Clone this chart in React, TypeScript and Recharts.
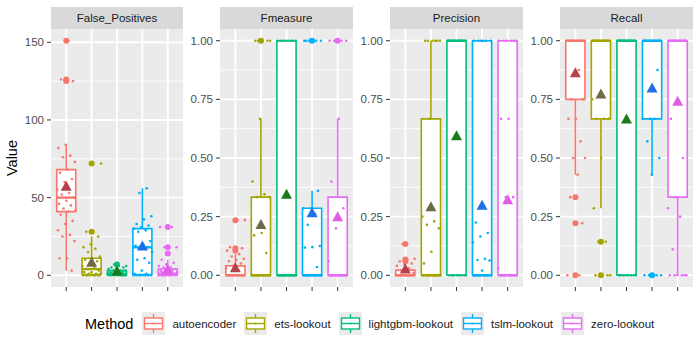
import React from 'react';
import { ComposedChart, XAxis, YAxis, CartesianGrid, ReferenceArea, ReferenceLine, Scatter } from 'recharts';

const FONT = '"Liberation Sans", Arial, Helvetica, sans-serif';

const METHODS = ['autoencoder', 'ets-lookout', 'lightgbm-lookout', 'tslm-lookout', 'zero-lookout'];
const COLORS = ['#F8766D', '#A3A500', '#00BF7D', '#00B0F6', '#E76BF3'];
const MEAN_COLORS = ['#B5424A', '#6E6A45', '#1C7A1C', '#1F6FE8', '#E05EE6'];
const FACETS = ['False_Positives', 'Fmeasure', 'Precision', 'Recall'];

const FP_TICKS = [0, 50, 100, 150];
const FP_MINOR = [25, 75, 125];
const UNIT_TICKS = [0, 0.25, 0.5, 0.75, 1];
const UNIT_MINOR = [0.125, 0.375, 0.625, 0.875];

// box stats per method: [lower whisker, q1, median, q3, upper whisker]
const FP_BOX = [[3, 41, 50, 68, 84], [0, 0.5, 4, 11, 25], [0, 0, 1, 3, 6], [0, 0.5, 18, 30, 56], [0, 0, 1, 4, 10]];
const FM_BOX = [[0, 0, 0, 0.04, 0.09], [0, 0, 0, 0.333, 0.667], [0, 0, 0, 1, 1], [0, 0, 0, 0.286, 0.36], [0, 0, 0, 0.333, 0.667]];
const PR_BOX = [[0, 0, 0, 0.022, 0.05], [0, 0, 0, 0.667, 1], [0, 0, 1, 1, 1], [0, 0, 0, 1, 1], [0, 0, 0, 1, 1]];
const RC_BOX = [[0.429, 0.75, 1, 1, 1], [0.286, 0.667, 1, 1, 1], [0, 0, 1, 1, 1], [0.429, 0.667, 1, 1, 1], [0, 0.333, 1, 1, 1]];

const FP_MEAN = [57, 8, 2.5, 18.5, 3.5];
const FM_MEAN = [0.03, 0.214, 0.343, 0.264, 0.247];
const PR_MEAN = [0.025, 0.29, 0.593, 0.296, 0.32];
const RC_MEAN = [0.861, 0.771, 0.664, 0.796, 0.74];

const FP_OUTLIERS = [[125, 126, 151], [28, 72], [7], [], [14, 18, 31]];
const FM_OUTLIERS = [[0.235, 0.115, 0.105], [1], [], [1], [1]];
const PR_OUTLIERS = [[0.133, 0.067, 0.06], [], [], [], []];
const RC_OUTLIERS = [[0.333, 0.222, 0], [0.143, 0], [], [0], []];

const FP_POINTS = [
  [151, 126, 125, 84, 82, 77, 76, 73, 68, 66, 62, 60, 55, 53, 52, 50, 48, 46, 45, 43, 42, 41, 39, 35, 33, 29, 26, 25, 22, 11, 11, 3],
  [72, 28, 28, 25, 20, 18, 17, 15, 12, 11, 10, 9, 8, 6, 5, 4, 3, 2, 2, 1, 1, 1, 0, 0, 0, 0, 0, 0, 0, 0],
  [7, 6, 6, 5, 5, 4, 4, 3, 3, 3, 2, 2, 2, 1, 1, 1, 1, 0, 0, 0, 0, 0, 0, 0, 0, 0],
  [56, 53, 38, 36, 33, 32, 31, 30, 29, 28, 22, 20, 19, 18, 17, 15, 11, 10, 8, 3, 1, 1, 0, 0, 0, 0, 0, 0, 0, 0],
  [31, 31, 18, 18, 14, 10, 8, 7, 6, 5, 5, 4, 4, 3, 3, 3, 2, 2, 2, 1, 1, 1, 1, 0, 0, 0, 0, 0, 0, 0, 0, 0],
];
const FM_POINTS = [
  [0.235, 0.235, 0.12, 0.115, 0.11, 0.105, 0.09, 0.08, 0.07, 0.065, 0.06, 0.05, 0.04, 0.03, 0.02, 0, 0, 0, 0, 0, 0, 0, 0, 0, 0, 0, 0],
  [1, 1, 1, 1, 1, 0.667, 0.4, 0.345, 0.333, 0.333, 0.18, 0.17, 0.095, 0, 0, 0, 0, 0, 0, 0, 0, 0, 0, 0, 0],
  [1, 1, 1, 1, 1, 1, 1, 1, 0, 0, 0, 0, 0, 0, 0, 0, 0, 0, 0, 0, 0, 0],
  [1, 1, 1, 1, 1, 1, 0.36, 0.286, 0.286, 0.26, 0.215, 0.125, 0.12, 0.118, 0.035, 0, 0, 0, 0, 0, 0, 0, 0, 0, 0, 0, 0],
  [1, 1, 1, 1, 1, 0.667, 0.4, 0.286, 0.2, 0.06, 0, 0, 0, 0, 0, 0, 0, 0, 0, 0, 0, 0],
];
const PR_POINTS = [
  [0.133, 0.07, 0.067, 0.06, 0.05, 0.045, 0.04, 0.03, 0.02, 0.01, 0, 0, 0, 0, 0, 0, 0, 0, 0, 0, 0, 0],
  [1, 1, 1, 1, 1, 1, 0.667, 0.25, 0.23, 0.215, 0.2, 0.1, 0.05, 0, 0, 0, 0, 0, 0, 0, 0, 0, 0, 0, 0],
  [1, 1, 1, 1, 1, 1, 1, 1, 1, 1, 0, 0, 0, 0, 0, 0, 0, 0],
  [1, 1, 1, 1, 1, 1, 0.225, 0.18, 0.165, 0.14, 0.07, 0.065, 0.063, 0.02, 0, 0, 0, 0, 0, 0, 0, 0, 0, 0, 0],
  [1, 1, 1, 1, 1, 1, 0.667, 0.667, 0.333, 0.333, 0.03, 0, 0, 0, 0, 0, 0, 0, 0, 0, 0],
];
const RC_POINTS = [
  [1, 1, 1, 1, 1, 1, 1, 1, 0.875, 0.75, 0.75, 0.667, 0.667, 0.571, 0.5, 0.5, 0.429, 0.333, 0.222, 0.222, 0, 0],
  [1, 1, 1, 1, 1, 1, 1, 1, 0.75, 0.667, 0.667, 0.667, 0.5, 0.286, 0.143, 0.143, 0, 0, 0, 0],
  [1, 1, 1, 1, 1, 1, 1, 1, 1, 1, 1, 1, 0, 0, 0, 0, 0, 0, 0, 0],
  [1, 1, 1, 1, 1, 1, 1, 1, 0.875, 0.667, 0.667, 0.667, 0.571, 0.5, 0.429, 0, 0, 0, 0, 0],
  [1, 1, 1, 1, 1, 1, 1, 1, 0.667, 0.5, 0.333, 0.286, 0.25, 0.111, 0, 0, 0, 0, 0, 0],
];

const fmtInt = (v: number) => String(v);
const fmt2 = (v: number) => v.toFixed(2);

const FACET_CFG = [
  { box: FP_BOX, mean: FP_MEAN, outliers: FP_OUTLIERS, points: FP_POINTS, domain: [-7.55, 158.55], ticks: FP_TICKS, minor: FP_MINOR, fmt: fmtInt },
  { box: FM_BOX, mean: FM_MEAN, outliers: FM_OUTLIERS, points: FM_POINTS, domain: [-0.05, 1.05], ticks: UNIT_TICKS, minor: UNIT_MINOR, fmt: fmt2 },
  { box: PR_BOX, mean: PR_MEAN, outliers: PR_OUTLIERS, points: PR_POINTS, domain: [-0.05, 1.05], ticks: UNIT_TICKS, minor: UNIT_MINOR, fmt: fmt2 },
  { box: RC_BOX, mean: RC_MEAN, outliers: RC_OUTLIERS, points: RC_POINTS, domain: [-0.05, 1.05], ticks: UNIT_TICKS, minor: UNIT_MINOR, fmt: fmt2 },
];

// layout of each facet chart: chart left, chart width, y-axis width
const LAYOUT = [
  { left: 0, width: 183, axis: 51 },
  { left: 183, width: 170, axis: 37 },
  { left: 353, width: 170, axis: 37 },
  { left: 523, width: 170, axis: 37 },
];

const HALF_BOX = 0.375;
const jitter = (i: number, k: number) => ((((i + 1) * 0.61803398875 + k * 0.37) % 1) - 0.5) * 0.76;

const SmallDot = (p: any) => <circle cx={p.cx} cy={p.cy} r={1.3} fill={p.fill} />;
const BigDot = (p: any) => <circle cx={p.cx} cy={p.cy} r={3} fill={p.fill} />;
const Triangle = (p: any) => (
  <polygon points={`${p.cx},${p.cy - 6} ${p.cx - 5.5},${p.cy + 4} ${p.cx + 5.5},${p.cy + 4}`} fill={p.fill} />
);

function Facet({ idx }: { idx: number }) {
  const cfg = FACET_CFG[idx];
  const lay = LAYOUT[idx];
  const panelLeft = lay.left + lay.axis;
  const panelWidth = lay.width - lay.axis;
  return (
    <>
      <div
        style={{
          position: 'absolute', left: panelLeft, top: 7, width: panelWidth, height: 22,
          background: '#D9D9D9', color: '#1A1A1A', fontFamily: FONT, fontSize: 11.5,
          lineHeight: '22px', textAlign: 'center',
        }}
      >
        {FACETS[idx]}
      </div>
      <div style={{ position: 'absolute', left: lay.left, top: 0 }}>
        <ComposedChart width={lay.width} height={350} margin={{ top: 29, right: 0, bottom: 58, left: 0 }}>
          <CartesianGrid
            vertical={false}
            horizontalValues={cfg.minor}
            stroke="#FFFFFF"
            strokeWidth={0.9}
            fill="#EBEBEB"
            fillOpacity={1}
          />
          <CartesianGrid
            horizontalValues={cfg.ticks}
            verticalValues={[1, 2, 3, 4, 5]}
            stroke="#FFFFFF"
            strokeWidth={1.9}
          />
          <XAxis
            type="number"
            dataKey="x"
            domain={[0.4, 5.6]}
            ticks={[1, 2, 3, 4, 5]}
            interval={0}
            allowDataOverflow
            tickFormatter={() => ''}
            axisLine={false}
            tickLine={{ stroke: '#333333' }}
            tickSize={4}
            height={5}
          />
          <YAxis
            type="number"
            dataKey="y"
            domain={cfg.domain}
            ticks={cfg.ticks}
            interval={0}
            allowDataOverflow
            tickFormatter={cfg.fmt}
            axisLine={false}
            tickLine={{ stroke: '#333333' }}
            tickSize={4}
            tickMargin={3}
            width={lay.axis}
            tick={{ fill: '#4D4D4D', fontSize: 11.5, fontFamily: FONT }}
          />
          {METHODS.map((m, i) => {
            const [lo, q1, med, q3, hi] = cfg.box[i];
            const x = i + 1;
            return [
              <ReferenceLine key={`wu${i}`} segment={[{ x, y: q3 }, { x, y: hi }]} stroke={COLORS[i]} strokeWidth={1.6} />,
              <ReferenceLine key={`wl${i}`} segment={[{ x, y: lo }, { x, y: q1 }]} stroke={COLORS[i]} strokeWidth={1.6} />,
              <ReferenceArea
                key={`b${i}`}
                x1={x - HALF_BOX}
                x2={x + HALF_BOX}
                y1={q1}
                y2={q3}
                fill="#FFFFFF"
                fillOpacity={1}
                stroke={COLORS[i]}
                strokeWidth={1.6}
              />,
              <ReferenceLine
                key={`md${i}`}
                segment={[{ x: x - HALF_BOX, y: med }, { x: x + HALF_BOX, y: med }]}
                stroke={COLORS[i]}
                strokeWidth={2.4}
              />,
            ];
          })}
          {METHODS.map((m, i) => (
            <Scatter
              key={`o${i}`}
              name={`${m}-outliers`}
              data={cfg.outliers[i].map((v) => ({ x: i + 1, y: v }))}
              fill={COLORS[i]}
              shape={BigDot}
              isAnimationActive={false}
            />
          ))}
          {METHODS.map((m, i) => (
            <Scatter
              key={`p${i}`}
              name={m}
              data={cfg.points[i].map((v, k) => ({ x: i + 1 + jitter(k, i + idx), y: v }))}
              fill={COLORS[i]}
              shape={SmallDot}
              isAnimationActive={false}
            />
          ))}
          {METHODS.map((m, i) => (
            <Scatter
              key={`mn${i}`}
              name={`${m}-mean`}
              data={[{ x: i + 1, y: cfg.mean[i] }]}
              fill={MEAN_COLORS[i]}
              shape={Triangle}
              isAnimationActive={false}
            />
          ))}
        </ComposedChart>
      </div>
    </>
  );
}

function LegendKey({ color }: { color: string }) {
  return (
    <svg width={23} height={23} style={{ display: 'block' }}>
      <rect x={0} y={0} width={23} height={23} fill="#EBEBEB" />
      <line x1={11.5} y1={2} x2={11.5} y2={21} stroke={color} strokeWidth={1.4} />
      <rect x={2.5} y={6} width={18} height={11} fill="#FFFFFF" stroke={color} strokeWidth={1.4} />
      <line x1={2.5} y1={11.5} x2={20.5} y2={11.5} stroke={color} strokeWidth={1.4} />
      <circle cx={11.5} cy={11.5} r={1} fill={color} />
    </svg>
  );
}

export default function App() {
  return (
    <div style={{ position: 'fixed', left: 0, top: 0, width: 700, height: 350, background: '#FFFFFF', overflow: 'hidden' }}>
      {FACETS.map((f, idx) => (
        <Facet key={f} idx={idx} />
      ))}
      <div
        style={{
          position: 'absolute', left: 12, top: 158, transform: 'translate(-50%, -50%) rotate(-90deg)',
          fontFamily: FONT, fontSize: 14.5, color: '#000000', whiteSpace: 'nowrap',
        }}
      >
        Value
      </div>
      <div
        style={{
          position: 'absolute', left: 85, top: 312, height: 23, display: 'flex', alignItems: 'center',
          fontFamily: FONT, whiteSpace: 'nowrap',
        }}
      >
        <span style={{ fontSize: 14.5, color: '#000000', marginRight: 9 }}>Method</span>
        {METHODS.map((m, i) => (
          <React.Fragment key={m}>
            <span style={{ marginRight: 7 }}>
              <LegendKey color={COLORS[i]} />
            </span>
            <span style={{ fontSize: 11.5, color: '#1A1A1A', marginRight: i < METHODS.length - 1 ? 8 : 0 }}>{m}</span>
          </React.Fragment>
        ))}
      </div>
    </div>
  );
}
